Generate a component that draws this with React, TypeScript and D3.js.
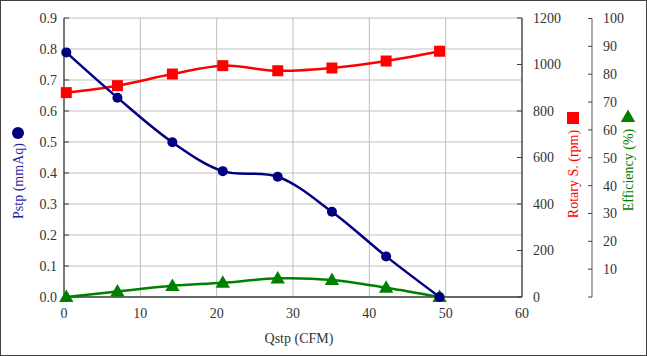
import React from "react";
import * as d3 from "d3";

const qstp = [0.3, 7.0, 14.2, 20.8, 28.0, 35.1, 42.2, 49.2];
const pstp = [0.789, 0.643, 0.499, 0.406, 0.388, 0.275, 0.131, 0.0];
const rotary = [879, 909, 959, 995, 973, 985, 1015, 1057];
const efficiency = [0.0, 2.0, 4.0, 5.1, 6.7, 6.1, 3.3, 0.0];

const xTicks = [0, 10, 20, 30, 40, 50, 60];
const pTicks = [0, 0.1, 0.2, 0.3, 0.4, 0.5, 0.6, 0.7, 0.8, 0.9];
const rTicks = [0, 200, 400, 600, 800, 1000, 1200];
const eTicks = [10, 20, 30, 40, 50, 60, 70, 80, 90, 100];

const W = 647, H = 356;
const L = 64, R = 522, T = 18, B = 297;
const FONT = "Liberation Serif, DejaVu Serif, serif";
const FS = 14;

export default function App() {
  const x = d3.scaleLinear().domain([0, 60]).range([L, R]);
  const yP = d3.scaleLinear().domain([0, 0.9]).range([B, T]);
  const yR = d3.scaleLinear().domain([0, 1200]).range([B, T]);
  const yE = d3.scaleLinear().domain([0, 100]).range([B, T + 0.5]);
  const EX = 592;

  const curve = d3.curveCatmullRom.alpha(0.5);
  const lineP = d3.line<number>().x((_, i) => x(qstp[i])).y((d) => yP(d)).curve(curve);
  const lineR = d3.line<number>().x((_, i) => x(qstp[i])).y((d) => yR(d)).curve(curve);
  const lineE = d3.line<number>().x((_, i) => x(qstp[i])).y((d) => yE(d)).curve(curve);

  const tri = (cx: number, cy: number, s: number) =>
    `M${cx},${cy - s * 0.62}L${cx + s * 0.6},${cy + s * 0.42}L${cx - s * 0.6},${cy + s * 0.42}Z`;

  return (
    <svg width={W} height={H} style={{ position: "absolute", left: 0, top: 0, background: "#fff", fontFamily: FONT }}>
      <rect x={0.5} y={0.5} width={W - 1} height={H - 1} fill="#fff" stroke="#404040" />
      {/* grid */}
      {pTicks.map((t) => (
        <line key={"gh" + t} x1={L} x2={R} y1={yP(t)} y2={yP(t)} stroke="#bfbfbf" strokeWidth={1} />
      ))}
      {xTicks.map((t) => (
        <line key={"gv" + t} x1={x(t)} x2={x(t)} y1={T} y2={B} stroke="#bfbfbf" strokeWidth={1} />
      ))}
      {/* axes */}
      <line x1={L} x2={L} y1={T} y2={B} stroke="#404040" strokeWidth={1.3} />
      <line x1={L} x2={R} y1={B} y2={B} stroke="#404040" strokeWidth={1.3} />
      <line x1={R} x2={R} y1={T} y2={B} stroke="#404040" strokeWidth={1.3} />
      <line x1={EX} x2={EX} y1={yE(100)} y2={yE(0)} stroke="#808080" strokeWidth={1.3} />

      {/* left ticks */}
      {pTicks.map((t) => (
        <g key={"pt" + t}>
          <line x1={L} x2={L + 5} y1={yP(t)} y2={yP(t)} stroke="#404040" />
          <text x={L - 7} y={yP(t)} dy="0.35em" textAnchor="end" fontSize={FS} fill="#333">
            {t.toFixed(1)}
          </text>
        </g>
      ))}
      {/* bottom ticks */}
      {xTicks.map((t) => (
        <text key={"xt" + t} x={x(t)} y={B + 16} dy="0.35em" textAnchor="middle" fontSize={FS} fill="#333">
          {t}
        </text>
      ))}
      {/* right rpm ticks */}
      {rTicks.map((t) => (
        <g key={"rt" + t}>
          <line x1={R - 5} x2={R} y1={yR(t)} y2={yR(t)} stroke="#404040" />
          <text x={R + 11} y={yR(t)} dy="0.35em" textAnchor="start" fontSize={FS} fill="#333">
            {t}
          </text>
        </g>
      ))}
      {/* efficiency ticks */}
      {[0, ...eTicks].map((t) => (
        <line key={"etl" + t} x1={EX - 4} x2={EX} y1={yE(t)} y2={yE(t)} stroke="#404040" />
      ))}
      {eTicks.map((t) => (
        <text key={"et" + t} x={EX + 11} y={yE(t)} dy="0.35em" textAnchor="start" fontSize={FS} fill="#333">
          {t}
        </text>
      ))}

      {/* lines */}
      <path d={lineE(efficiency) || ""} fill="none" stroke="#008000" strokeWidth={2.5} />
      <path d={lineR(rotary) || ""} fill="none" stroke="#ff0000" strokeWidth={2.5} />
      <path d={lineP(pstp) || ""} fill="none" stroke="#000080" strokeWidth={2.5} />

      {efficiency.map((v, i) => (
        <path key={"em" + i} d={tri(x(qstp[i]), yE(v), 12)} fill="#008000" />
      ))}
      {rotary.map((v, i) => (
        <rect key={"rm" + i} x={x(qstp[i]) - 5.5} y={yR(v) - 5.5} width={11} height={11} fill="#ff0000" />
      ))}
      {pstp.map((v, i) => (
        <circle key={"pm" + i} cx={x(qstp[i])} cy={yP(v)} r={5} fill="#000080" />
      ))}

      {/* axis titles */}
      <text x={(L + R) / 2 + 6} y={338} dy="0.35em" textAnchor="middle" fontSize={FS} fill="#333">
        Qstp (CFM)
      </text>
      <g transform="translate(18,181) rotate(-90)">
        <text x={0} y={0} dy="0.35em" textAnchor="middle" fontSize={FS} fill="#1f1f9f">
          Pstp (mmAq)
        </text>
      </g>
      <circle cx={18} cy={133} r={6} fill="#000080" />
      <g transform="translate(573,174) rotate(-90)">
        <text x={0} y={0} dy="0.35em" textAnchor="middle" fontSize={FS} fill="#ff0000">
          Rotary S. (rpm)
        </text>
      </g>
      <rect x={567} y={112} width={12} height={12} fill="#ff0000" />
      <g transform="translate(628,170) rotate(-90)">
        <text x={0} y={0} dy="0.35em" textAnchor="middle" fontSize={FS} fill="#008000">
          Efficiency (%)
        </text>
      </g>
      <path d={tri(628, 117, 12)} fill="#008000" />
    </svg>
  );
}
